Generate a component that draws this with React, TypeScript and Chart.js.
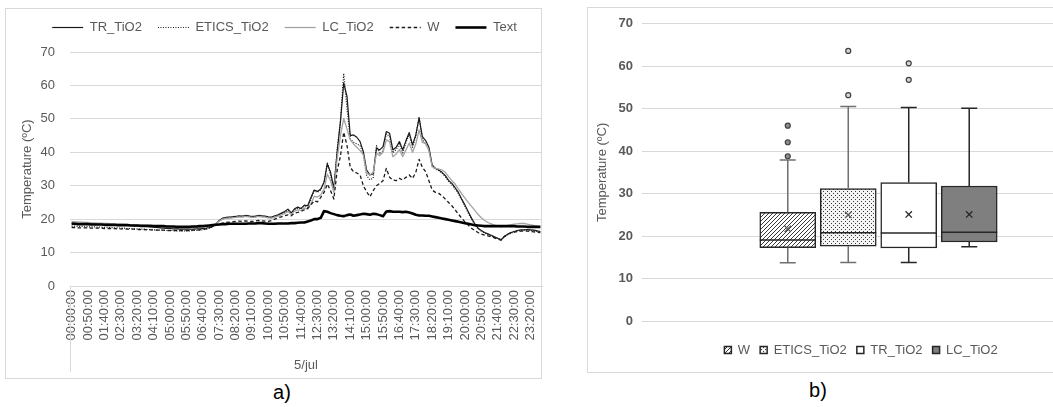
import React, { useEffect, useRef } from 'react';
import { Chart, registerables } from 'chart.js';

Chart.register(...registerables);

const FONT = '"Liberation Sans", Arial, sans-serif';
const TEXT_GREY = '#595959';
const GRID = '#d9d9d9';

// ---- Left chart: categories ----
const HOURS = ['00', '01', '02', '03', '04', '05', '06', '07', '08', '09', '10', '11',
  '12', '13', '14', '15', '16', '17', '18', '19', '20', '21', '22', '23'];
const MINUTES = ['00', '10', '20', '30', '40', '50'];
const TIMES: string[] = HOURS.flatMap((h) => MINUTES.map((m) => `${h}:${m}:00`));
const LABEL_EVERY = 5;
const DATE_LABEL = '5/jul';
const Y_TITLE = 'Temperature (ºC)';

// ---- Left chart: series (10-minute readings, 5/jul) ----
const TR_TIO2 = [
  18.8, 18.8, 18.7, 18.7, 18.7, 18.6, 18.6, 18.6, 18.5, 18.5, 18.5, 18.4,
  18.4, 18.3, 18.3, 18.2, 18.2, 18.1, 18.1, 18.0, 18.0, 17.9, 17.9, 17.8,
  17.7, 17.6, 17.5, 17.4, 17.3, 17.2, 17.2, 17.1, 17.1, 17.0, 17.0, 17.0,
  17.0, 17.0, 17.1, 17.1, 17.2, 17.3, 17.5, 17.8, 18.6, 19.6, 20.3, 20.5,
  20.6, 20.7, 20.8, 21.0, 20.9, 21.1, 21.0, 20.8, 20.9, 21.1, 21.0, 20.9,
  20.7, 20.6, 21.0, 21.3, 21.8, 22.3, 23.0, 21.9, 23.1, 23.6, 23.2, 24.2,
  24.0, 26.5, 28.7, 28.3, 29.0, 31.0, 36.5, 34.0, 29.2, 40.0, 49.0, 60.7,
  56.8, 45.0, 45.2, 44.5, 43.2, 40.2, 34.7, 33.2, 33.5, 41.2, 40.7, 41.7,
  46.2, 45.7, 40.7, 41.5, 43.2, 40.7, 43.5, 45.9, 42.2, 45.2, 50.3, 44.7,
  43.5, 41.5, 36.2, 35.2, 34.7, 34.0, 33.0, 31.6, 30.7, 29.4, 28.0, 26.0,
  24.2, 22.2, 20.3, 18.6, 17.3, 16.6, 16.0, 15.6, 15.2, 14.7, 14.3, 13.8,
  14.8, 15.5, 16.0, 16.3, 16.6, 16.8, 16.8, 16.9, 16.8, 16.7, 16.5, 16.3,
];
const ETICS_TIO2 = [
  17.9, 17.9, 17.8, 17.8, 17.8, 17.7, 17.7, 17.7, 17.6, 17.6, 17.5, 17.5,
  17.5, 17.4, 17.4, 17.3, 17.3, 17.2, 17.2, 17.1, 17.1, 17.0, 17.0, 16.9,
  16.9, 16.8, 16.8, 16.7, 16.7, 16.6, 16.6, 16.6, 16.5, 16.5, 16.5, 16.5,
  16.5, 16.6, 16.6, 16.7, 16.8, 17.0, 17.3, 17.7, 18.4, 19.4, 20.0, 20.3,
  20.4, 20.5, 20.6, 20.8, 20.7, 20.9, 20.8, 20.6, 20.7, 20.9, 20.8, 20.7,
  20.5, 20.4, 20.8, 21.1, 21.6, 22.0, 22.7, 21.6, 22.8, 23.3, 23.0, 23.9,
  23.4, 25.9, 28.5, 28.0, 28.8, 31.0, 37.0, 33.0, 28.8, 41.0, 49.5, 63.6,
  53.2, 44.0, 43.0, 42.5, 42.0, 39.5, 33.0, 31.8, 32.2, 42.0, 39.5, 40.5,
  45.5, 44.8, 39.8, 40.8, 42.5, 39.8, 43.0, 45.3, 41.5, 44.8, 50.5, 43.8,
  42.5, 40.8, 35.8, 35.0, 34.5, 33.8, 32.7, 31.3, 30.3, 29.0, 27.6, 25.7,
  23.8, 21.8, 20.0, 18.3, 17.1, 16.4, 15.8, 15.4, 15.0, 14.6, 14.2, 13.8,
  14.6, 15.3, 15.8, 16.2, 16.5, 16.6, 16.7, 16.7, 16.6, 16.5, 16.3, 16.1,
];
const LC_TIO2 = [
  19.3, 19.2, 19.2, 19.1, 19.0, 19.0, 18.9, 18.9, 18.8, 18.8, 18.7, 18.7,
  18.6, 18.6, 18.5, 18.5, 18.4, 18.4, 18.3, 18.3, 18.2, 18.2, 18.1, 18.1,
  18.0, 17.9, 17.9, 17.8, 17.8, 17.7, 17.7, 17.6, 17.6, 17.5, 17.5, 17.5,
  17.5, 17.5, 17.6, 17.6, 17.7, 17.8, 17.9, 18.1, 18.6, 19.4, 20.0, 20.2,
  20.3, 20.4, 20.5, 20.7, 20.6, 20.8, 20.7, 20.5, 20.6, 20.8, 20.7, 20.6,
  20.4, 20.3, 20.6, 20.9, 21.3, 21.7, 22.3, 21.4, 22.4, 22.8, 22.6, 23.3,
  23.0, 24.6, 26.8, 26.6, 27.3, 29.0, 33.5, 31.5, 28.0, 38.0, 45.0, 50.1,
  47.0, 43.7, 42.5, 41.5, 40.5, 39.2, 33.7, 33.2, 34.0, 39.7, 39.0, 40.0,
  43.7, 43.2, 38.7, 39.5, 40.8, 38.7, 40.7, 42.8, 40.0, 42.5, 46.7, 43.0,
  42.7, 40.5, 35.7, 35.2, 35.0, 34.7, 34.0, 32.7, 31.5, 30.5, 29.0, 27.6,
  26.3, 25.0, 23.8, 22.6, 21.4, 20.4, 19.6, 19.0, 18.6, 18.2, 17.9, 17.7,
  17.9, 18.1, 18.3, 18.5, 18.6, 18.7, 18.7, 18.5, 18.3, 18.1, 17.9, 17.7,
];
const W = [
  17.5, 17.5, 17.4, 17.4, 17.4, 17.4, 17.3, 17.3, 17.3, 17.3, 17.2, 17.2,
  17.2, 17.2, 17.1, 17.1, 17.1, 17.0, 17.0, 17.0, 16.9, 16.9, 16.9, 16.8,
  16.8, 16.8, 16.7, 16.7, 16.7, 16.6, 16.6, 16.6, 16.6, 16.6, 16.6, 16.6,
  16.6, 16.7, 16.7, 16.8, 16.9, 17.1, 17.4, 17.8, 18.2, 18.6, 18.8, 19.0,
  19.1, 19.2, 19.3, 19.4, 19.3, 19.5, 19.4, 19.3, 19.4, 19.6, 19.5, 19.4,
  19.3, 19.6, 20.0, 20.4, 20.7, 21.0, 21.3, 21.0, 21.8, 22.0, 22.3, 22.8,
  23.2, 24.3, 25.5, 25.2, 26.5, 28.0, 30.5, 28.5, 26.0, 34.5, 38.8, 46.0,
  42.1, 35.5, 34.2, 33.8, 33.2, 30.0, 28.2, 26.7, 28.5, 30.0, 30.7, 31.5,
  35.2, 32.5, 31.7, 31.5, 32.2, 31.7, 32.5, 33.2, 32.2, 34.0, 37.9, 35.5,
  34.2, 31.5, 28.7, 28.0, 27.7, 27.0, 26.0, 25.0, 24.0, 22.8, 21.5, 20.3,
  19.2, 18.2, 17.3, 16.6, 16.0, 15.5, 15.2, 15.0, 14.7, 14.4, 14.0, 13.7,
  14.8, 15.5, 15.9, 16.1, 16.3, 16.4, 16.4, 16.4, 16.3, 16.2, 16.1, 16.0,
];
const TEXT = [
  18.6, 18.6, 18.5, 18.5, 18.5, 18.5, 18.4, 18.4, 18.4, 18.4, 18.3, 18.3,
  18.3, 18.3, 18.2, 18.2, 18.2, 18.2, 18.1, 18.1, 18.1, 18.0, 18.0, 18.0,
  18.0, 17.9, 17.9, 17.9, 17.9, 17.8, 17.8, 17.8, 17.7, 17.7, 17.7, 17.7,
  17.7, 17.8, 17.8, 17.9, 17.9, 18.0, 18.1, 18.2, 18.3, 18.4, 18.5, 18.5,
  18.6, 18.6, 18.6, 18.6, 18.6, 18.6, 18.7, 18.7, 18.7, 18.8, 18.8, 18.7,
  18.6, 18.6, 18.6, 18.7, 18.7, 18.7, 18.7, 18.8, 18.8, 18.9, 19.0, 19.0,
  19.3, 19.6, 20.0, 20.0, 20.4, 22.4, 22.2, 21.8, 21.5, 21.2, 21.0, 20.9,
  21.2, 21.4, 21.0, 21.2, 21.4, 21.6, 21.5, 21.3, 21.6, 21.5, 21.2, 20.9,
  22.3, 22.4, 22.2, 22.2, 22.2, 22.1, 22.2, 22.0, 21.7, 21.3, 21.1, 21.1,
  21.0, 21.0, 20.8, 20.6, 20.4, 20.2, 20.0, 19.8, 19.6, 19.4, 19.2, 19.0,
  18.8, 18.6, 18.4, 18.2, 18.1, 18.0, 17.9, 17.9, 17.9, 17.9, 17.9, 17.9,
  17.9, 17.9, 17.9, 17.9, 17.8, 17.8, 17.8, 17.7, 17.7, 17.7, 17.7, 17.7,
];

// ---- Right chart: box plot statistics ----
const BOX_LABELS = ['W', 'ETICS_TiO2', 'TR_TiO2', 'LC_TiO2'];
const BOX_MIN = [13.7, 13.8, 13.8, 17.5];
const BOX_Q1 = [17.3, 17.6, 17.2, 18.6];
const BOX_MEDIAN = [19.1, 20.8, 20.7, 20.9];
const BOX_Q3 = [25.6, 31.2, 32.6, 31.8];
const BOX_MAX = [37.9, 50.5, 50.3, 50.1];
const BOX_MEAN = [21.7, 25.0, 25.1, 25.1];
const BOX_OUTLIERS = [[46.0, 42.1, 38.8], [63.6, 53.2], [60.7, 56.8], []];

const WHISKER_COLORS = ['#6f6f6f', '#6f6f6f', '#262626', '#262626'];
const MEAN_COLORS = ['#5a5a5a', '#5a5a5a', '#262626', '#262626'];
const OUTLIER_FILLS = ['#8c8c8c', '#d6d6d6', '#d6d6d6', '#d6d6d6'];

function makeHatch(): CanvasPattern | string {
  const c = document.createElement('canvas');
  c.width = 4; c.height = 4;
  const g = c.getContext('2d');
  if (!g) return '#999';
  g.fillStyle = '#ffffff';
  g.fillRect(0, 0, 4, 4);
  g.strokeStyle = '#3a3a3a';
  g.lineWidth = 1;
  g.beginPath();
  g.moveTo(-1, 5); g.lineTo(5, -1);
  g.moveTo(-1, 1); g.lineTo(1, -1);
  g.moveTo(3, 5); g.lineTo(5, 3);
  g.stroke();
  return g.createPattern(c, 'repeat') || '#999';
}

function makeDots(): CanvasPattern | string {
  const c = document.createElement('canvas');
  c.width = 4; c.height = 4;
  const g = c.getContext('2d');
  if (!g) return '#eee';
  g.fillStyle = '#f4f4f4';
  g.fillRect(0, 0, 4, 4);
  g.fillStyle = '#3a3a3a';
  g.fillRect(0, 0, 1, 1);
  g.fillRect(2, 2, 1, 1);
  return g.createPattern(c, 'repeat') || '#eee';
}

const dividerPlugin = {
  id: 'categoryDivider',
  afterDraw(chart: any) {
    const { ctx, chartArea } = chart;
    ctx.save();
    ctx.strokeStyle = GRID;
    ctx.lineWidth = 1;
    const x = Math.round(chartArea.left) + 0.5;
    ctx.beginPath();
    ctx.moveTo(x, chartArea.bottom);
    ctx.lineTo(x, chart.height - 7);
    ctx.stroke();
    ctx.restore();
  },
};

const whiskerPlugin = {
  id: 'boxWhiskers',
  afterDatasetsDraw(chart: any) {
    const { ctx } = chart;
    const ys = chart.scales.y;
    BOX_LABELS.forEach((_, i) => {
      const bar = chart.getDatasetMeta(i).data[0];
      if (!bar) return;
      const x = bar.x;
      const half = bar.width / 2;
      const cap = 8;
      const pQ1 = ys.getPixelForValue(BOX_Q1[i]);
      const pQ3 = ys.getPixelForValue(BOX_Q3[i]);
      const pMin = ys.getPixelForValue(BOX_MIN[i]);
      const pMax = ys.getPixelForValue(BOX_MAX[i]);
      const pMed = ys.getPixelForValue(BOX_MEDIAN[i]);
      ctx.save();
      ctx.lineWidth = 1.5;
      ctx.strokeStyle = WHISKER_COLORS[i];
      ctx.beginPath();
      ctx.moveTo(x, pQ3); ctx.lineTo(x, pMax);
      ctx.moveTo(x - cap, pMax); ctx.lineTo(x + cap, pMax);
      ctx.moveTo(x, pQ1); ctx.lineTo(x, pMin);
      ctx.moveTo(x - cap, pMin); ctx.lineTo(x + cap, pMin);
      ctx.stroke();
      ctx.strokeStyle = '#262626';
      ctx.beginPath();
      ctx.moveTo(x - half, pMed); ctx.lineTo(x + half, pMed);
      ctx.stroke();
      ctx.restore();
    });
  },
};

export default function App() {
  const leftRef = useRef<HTMLCanvasElement>(null);
  const rightRef = useRef<HTMLCanvasElement>(null);

  useEffect(() => {
    Chart.defaults.font.family = FONT;
    const font = { family: FONT, size: 13 };
    const baseLabels = (Chart.defaults as any).plugins.legend.labels.generateLabels;

    const left = new Chart(leftRef.current as HTMLCanvasElement, {
      type: 'line',
      data: {
        labels: TIMES,
        datasets: [
          { label: 'TR_TiO2', data: TR_TIO2, borderColor: '#1a1a1a', borderWidth: 1.2, order: 4 },
          { label: 'ETICS_TiO2', data: ETICS_TIO2, borderColor: '#1a1a1a', borderWidth: 1.2, borderDash: [1, 1.5], order: 3 },
          { label: 'LC_TiO2', data: LC_TIO2, borderColor: '#a3a3a3', borderWidth: 1.3, order: 2 },
          { label: 'W', data: W, borderColor: '#1a1a1a', borderWidth: 1.3, borderDash: [3.5, 2.5], order: 1 },
          { label: 'Text', data: TEXT, borderColor: '#000000', borderWidth: 2.6, order: 0 },
        ] as any,
      },
      options: {
        animation: false,
        responsive: false,
        maintainAspectRatio: false,
        events: [],
        elements: {
          point: { radius: 0 },
          line: { tension: 0, fill: false, borderJoinStyle: 'round' },
        },
        layout: { padding: { top: -3, left: 0, right: 0, bottom: 0 } },
        plugins: {
          legend: {
            position: 'top',
            labels: {
              usePointStyle: true,
              pointStyle: 'line',
              pointStyleWidth: 31,
              boxHeight: 13,
              padding: 16,
              color: TEXT_GREY,
              font,
              generateLabels: (chart: any) => {
                const items = baseLabels(chart);
                items.forEach((it: any) => {
                  const ds = chart.data.datasets[it.datasetIndex];
                  it.lineDash = ds.borderDash || [];
                  it.lineWidth = ds.borderWidth;
                  it.strokeStyle = ds.borderColor;
                });
                return items;
              },
              sort: (a: any, b: any) => a.datasetIndex - b.datasetIndex,
            },
          },
          tooltip: { enabled: false },
        },
        scales: {
          x: {
            type: 'category',
            offset: true,
            grid: { display: false, drawTicks: false },
            border: { display: true, color: GRID },
            ticks: {
              autoSkip: false,
              minRotation: 90,
              maxRotation: 90,
              padding: 4,
              color: TEXT_GREY,
              font,
              callback: (_v: any, i: number) => (i % LABEL_EVERY === 0 ? TIMES[i] : ''),
            },
            title: { display: true, text: DATE_LABEL, color: TEXT_GREY, font, padding: { top: 0, bottom: 6 } },
            afterFit: (s: any) => { s.height = 93; },
          },
          xTop: {
            type: 'linear',
            position: 'top',
            display: true,
            ticks: { display: false },
            grid: { display: false, drawTicks: false },
            border: { display: false },
            afterFit: (s: any) => { s.height = 8; },
          },
          y: {
            min: 0,
            max: 70,
            ticks: { stepSize: 10, padding: 15, color: TEXT_GREY, font },
            grid: { color: GRID, drawTicks: false },
            border: { display: false },
            title: { display: true, text: Y_TITLE, color: TEXT_GREY, font, padding: { top: 15, bottom: 0 } },
            afterFit: (s: any) => { s.width = 65; },
          },
          yRight: {
            type: 'linear',
            position: 'right',
            display: true,
            ticks: { display: false },
            grid: { display: false, drawTicks: false },
            border: { display: false },
            afterFit: (s: any) => { s.width = 22; },
          },
        },
      } as any,
      plugins: [dividerPlugin],
    });

    const fills = [makeHatch(), makeDots(), '#ffffff', '#7f7f7f'];
    const outlierPoints = BOX_OUTLIERS.flatMap((arr, i) => arr.map((v) => ({ x: i + 1, y: v })));
    const outlierFills = BOX_OUTLIERS.flatMap((arr, i) => arr.map(() => OUTLIER_FILLS[i]));

    const right = new Chart(rightRef.current as HTMLCanvasElement, {
      type: 'bar',
      data: {
        datasets: [
          ...BOX_LABELS.map((label, i) => ({
            type: 'bar',
            label,
            data: [{ x: i + 1, y: [BOX_Q1[i], BOX_Q3[i]] }],
            backgroundColor: fills[i],
            borderColor: '#262626',
            borderWidth: 1.5,
            borderSkipped: false,
            barThickness: 56,
            grouped: false,
            order: 1,
          })),
          {
            type: 'scatter',
            label: 'mean',
            data: BOX_MEAN.map((v, i) => ({ x: i + 1, y: v })),
            pointStyle: 'crossRot',
            pointRadius: 4.5,
            pointBorderWidth: 1.3,
            pointBorderColor: MEAN_COLORS,
            pointBackgroundColor: MEAN_COLORS,
            order: -1,
          },
          {
            type: 'scatter',
            label: 'outliers',
            data: outlierPoints,
            pointStyle: 'circle',
            pointRadius: 2.5,
            pointBorderWidth: 1.2,
            pointBorderColor: '#404040',
            pointBackgroundColor: outlierFills,
            order: -1,
          },
        ] as any,
      },
      options: {
        animation: false,
        responsive: false,
        maintainAspectRatio: false,
        events: [],
        layout: { padding: { top: 15, left: 0, right: 0, bottom: 5.5 } },
        plugins: {
          legend: {
            position: 'bottom',
            labels: {
              boxWidth: 7,
              boxHeight: 7,
              padding: 10,
              color: TEXT_GREY,
              font,
              filter: (item: any) => item.datasetIndex < BOX_LABELS.length,
            },
          },
          tooltip: { enabled: false },
        },
        scales: {
          x: {
            type: 'linear',
            offset: false,
            min: -1.41,
            max: 6.645,
            display: true,
            ticks: { display: false },
            grid: { display: false, drawTicks: false },
            border: { display: false },
            afterFit: (s: any) => { s.height = 12.5; },
          },
          y: {
            min: 0,
            max: 70,
            ticks: { stepSize: 10, padding: 9, color: TEXT_GREY, font: { family: FONT, size: 13, weight: 'bold' } },
            grid: { color: GRID, drawTicks: false },
            border: { display: false },
            title: { display: true, text: Y_TITLE, color: TEXT_GREY, font, padding: { top: 8, bottom: 0 } },
            afterFit: (s: any) => { s.width = 55; },
          },
        },
      } as any,
      plugins: [whiskerPlugin],
    });

    return () => {
      left.destroy();
      right.destroy();
    };
  }, []);

  const caption: React.CSSProperties = {
    position: 'absolute',
    width: 40,
    textAlign: 'center',
    fontFamily: FONT,
    fontSize: 20,
    lineHeight: '20px',
    color: '#000',
  };

  return (
    <div style={{ position: 'fixed', left: 0, top: 0, width: 1053, height: 407, overflow: 'hidden', background: '#fff' }}>
      <div style={{ position: 'absolute', left: 5, top: 8, width: 537, height: 371, border: `1px solid ${GRID}`, boxSizing: 'border-box' }} />
      <div style={{ position: 'absolute', left: 587, top: 7, width: 548, height: 366, border: `1px solid ${GRID}`, boxSizing: 'border-box' }} />
      <canvas ref={leftRef} width={559} height={371} style={{ position: 'absolute', left: 5, top: 8, width: 559, height: 371 }} />
      <canvas ref={rightRef} width={548} height={365} style={{ position: 'absolute', left: 587, top: 7, width: 548, height: 365 }} />
      <div style={{ ...caption, left: 262, top: 382 }}>a)</div>
      <div style={{ ...caption, left: 798, top: 380 }}>b)</div>
    </div>
  );
}
